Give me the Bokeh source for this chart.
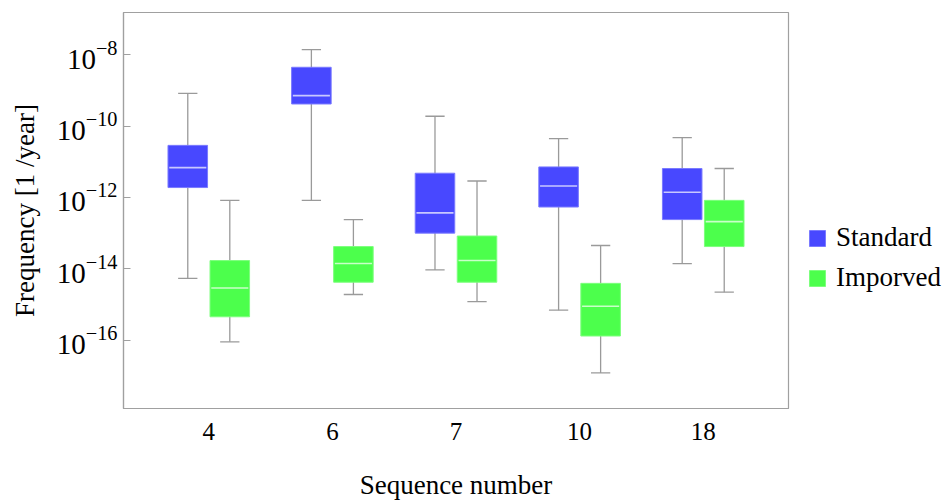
from bokeh.plotting import figure
from bokeh.layouts import row
from bokeh.models import ColumnDataSource, FixedTicker, Legend, LegendItem, Range1d
from bokeh.embed import file_html
from bokeh.resources import INLINE

categories = ["4", "6", "7", "10", "18"]
series_names = ["Standard", "Imporved"]

# Standard
std_whisker_low = [5.4e-15, 8.3e-13, 9.3e-15, 6.9e-16, 1.4e-14]
std_q1 = [1.9e-12, 4.2e-10, 1.0e-13, 5.4e-13, 2.4e-13]
std_median = [6.9e-12, 7.2e-10, 3.7e-13, 2.1e-12, 1.4e-12]
std_q3 = [2.9e-11, 4.5e-9, 4.8e-12, 7.2e-12, 6.5e-12]
std_whisker_high = [8.3e-10, 1.4e-8, 1.9e-10, 4.5e-11, 4.8e-11]

# Imporved
imp_whisker_low = [8.9e-17, 1.9e-15, 1.2e-15, 1.2e-17, 2.2e-15]
imp_q1 = [4.5e-16, 4.2e-15, 4.2e-15, 1.3e-16, 4.2e-14]
imp_median = [2.9e-15, 1.4e-14, 1.7e-14, 8.9e-16, 2.1e-13]
imp_q3 = [1.7e-14, 4.2e-14, 8.3e-14, 3.9e-15, 8.3e-13]
imp_whisker_high = [8.3e-13, 2.4e-13, 2.9e-12, 4.5e-14, 6.5e-12]

y_ticks = [1e-8, 1e-10, 1e-12, 1e-14, 1e-16]

colors = ["#4848ff", "#4cff4c"]
edge_colors = ["#7a7aff", "#7dff7d"]
median_colors = ["#c8c8ff", "#c8ffc8"]
offsets = [-0.17, 0.17]
box_w = 0.32
cap_half = 0.078
whisker_color = "#9a9a9a"
serif = "Liberation Serif"

p = figure(width=800, height=502, output_backend="svg", toolbar_location=None,
           y_axis_type="log",
           x_range=Range1d(-0.69, 4.69), y_range=Range1d(10**-17.92, 10**-6.81),
           min_border_left=123, min_border_right=12, min_border_top=12,
           min_border_bottom=79)
p.grid.visible = False
p.outline_line_color = "#a0a0a0"
p.outline_line_width = 1.2
p.background_fill_color = "white"
p.border_fill_color = "white"

series = [
    (std_whisker_low, std_q1, std_median, std_q3, std_whisker_high),
    (imp_whisker_low, imp_q1, imp_median, imp_q3, imp_whisker_high),
]

for k, (wl, q1, med, q3, wh) in enumerate(series):
    xs = [i + offsets[k] for i in range(len(categories))]
    src = ColumnDataSource(dict(x=xs, wl=wl, q1=q1, med=med, q3=q3, wh=wh,
                                cl=[x - cap_half for x in xs],
                                cr=[x + cap_half for x in xs],
                                ml=[x - box_w / 2 + 0.01 for x in xs],
                                mr=[x + box_w / 2 - 0.01 for x in xs]))
    p.segment(x0="x", y0="wl", x1="x", y1="wh", source=src,
              line_color=whisker_color, line_width=1.3)
    p.segment(x0="cl", y0="wh", x1="cr", y1="wh", source=src,
              line_color=whisker_color, line_width=1.3)
    p.segment(x0="cl", y0="wl", x1="cr", y1="wl", source=src,
              line_color=whisker_color, line_width=1.3)
    p.vbar(x="x", width=box_w, bottom="q1", top="q3", source=src,
           fill_color=colors[k], line_color=edge_colors[k], line_width=1)
    p.segment(x0="ml", y0="med", x1="mr", y1="med", source=src,
              line_color=median_colors[k], line_width=1.6)

# X axis
p.xaxis.ticker = FixedTicker(ticks=list(range(len(categories))))
p.xaxis.major_label_overrides = {i: c for i, c in enumerate(categories)}
p.xaxis.minor_tick_line_color = None
p.xaxis.axis_label = "Sequence number"

# Y axis
p.yaxis.ticker = FixedTicker(ticks=y_ticks, minor_ticks=[])
p.yaxis.major_tick_in = 7
p.yaxis.major_tick_out = 0
p.yaxis.minor_tick_line_color = None
p.yaxis.axis_label = "Frequency [1 /year]"

for ax in (p.xaxis[0], p.yaxis[0]):
    ax.axis_line_color = "#a0a0a0"
    ax.axis_line_width = 1.2
    ax.major_label_text_font = serif
    ax.major_label_text_color = "black"
    ax.axis_label_text_font = serif
    ax.axis_label_text_font_style = "normal"
    ax.axis_label_text_color = "black"
    ax.axis_label_text_font_size = "27px"
p.yaxis.major_tick_line_color = "#a0a0a0"
p.xaxis.major_tick_line_color = None

p.xaxis.major_label_text_font_size = "25px"
p.yaxis.major_label_text_font_size = "29px"
p.xaxis.major_label_standoff = 8
p.xaxis.axis_label_standoff = 27
p.yaxis.major_label_standoff = 6
p.yaxis.axis_label_standoff = 14

# Legend panel (separate figure to the right)
pl = figure(width=144, height=502, output_backend="svg", toolbar_location=None,
            x_axis_location=None, y_axis_location=None,
            x_range=Range1d(0, 1), y_range=Range1d(0, 1),
            min_border_left=0, min_border_right=0, min_border_top=0,
            min_border_bottom=0)
pl.grid.visible = False
pl.outline_line_color = None
pl.background_fill_color = "white"
pl.border_fill_color = "white"

# legend key renderers: one hidden key per series (placed outside the visible range)
legend_renderers = [pl.vbar(x=[5], width=0.1, top=[6], bottom=[5.5],
                            fill_color=colors[k], line_color=edge_colors[k], line_width=1)
                    for k in range(2)]
legend = Legend(items=[LegendItem(label=series_names[k], renderers=[legend_renderers[k]])
                       for k in range(2)],
                location=(7, 115), orientation="vertical",
                glyph_width=20, glyph_height=20, label_height=20,
                spacing=9, padding=0, margin=0, label_standoff=9,
                border_line_color=None, background_fill_alpha=0,
                label_text_font=serif, label_text_font_size="27px",
                label_text_color="black")
pl.add_layout(legend, "center")

layout = row(p, pl, spacing=0)
open("out.html", "w").write(file_html(layout, INLINE))
